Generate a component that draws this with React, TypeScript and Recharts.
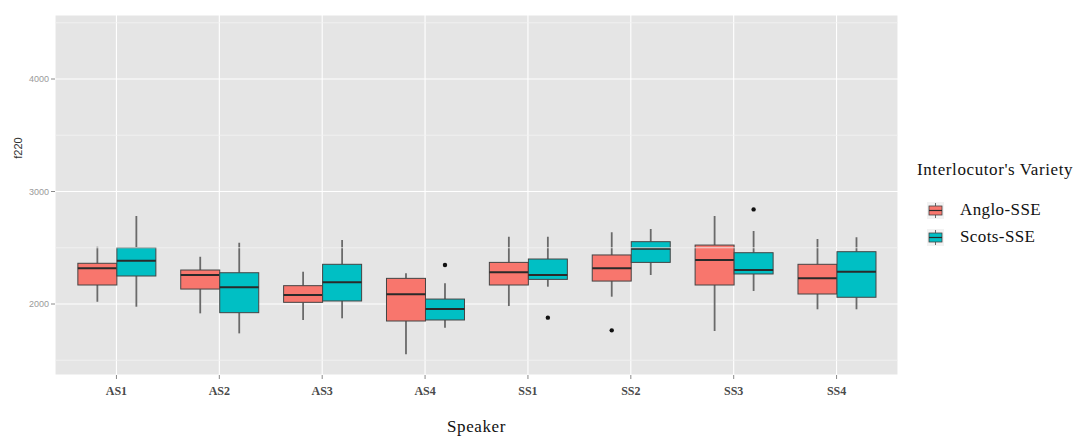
import { ComposedChart, Bar, XAxis, YAxis, CartesianGrid, ReferenceLine } from 'recharts';

const speakers = ['AS1', 'AS2', 'AS3', 'AS4', 'SS1', 'SS2', 'SS3', 'SS4'];

// Anglo-SSE interlocutor
const angloMin = [2020, 1917, 1858, 1553, 1982, 2065, 1760, 1953];
const angloQ1 = [2169, 2133, 2015, 1849, 2169, 2204, 2169, 2089];
const angloMed = [2317, 2258, 2080, 2086, 2282, 2317, 2391, 2228];
const angloQ3 = [2362, 2302, 2163, 2228, 2370, 2436, 2524, 2353];
const angloMax = [2509, 2420, 2287, 2273, 2599, 2637, 2782, 2578];
const angloOut = [[], [], [], [], [], [1766], [], []];

// Scots-SSE interlocutor
const scotsMin = [1976, 1739, 1873, 1790, 2154, 2258, 2116, 1953];
const scotsQ1 = [2249, 1923, 2027, 1858, 2219, 2370, 2267, 2060];
const scotsMed = [2385, 2148, 2193, 1956, 2258, 2492, 2302, 2287];
const scotsQ3 = [2500, 2278, 2353, 2044, 2400, 2554, 2456, 2465];
const scotsMax = [2782, 2545, 2569, 2184, 2599, 2667, 2649, 2593];
const scotsOut = [[], [], [], [2347], [1879], [], [2841], []];

const yMajor = [2000, 3000, 4000];
const yMinor = [1500, 2500, 3500, 4500];
const yDomain = [1369, 4569];

const RED = '#F8766D';
const TEAL = '#00BFC4';

const data = speakers.map((s, i) => ({
  speaker: s,
  a: { min: angloMin[i], q1: angloQ1[i], med: angloMed[i], q3: angloQ3[i], max: angloMax[i], out: angloOut[i] },
  s: { min: scotsMin[i], q1: scotsQ1[i], med: scotsMed[i], q3: scotsQ3[i], max: scotsMax[i], out: scotsOut[i] },
}));

const makeBox = (key: 'a' | 's', fill: string) => (props: any) => {
  const { x, y, width, height, payload } = props;
  const st = payload[key];
  const top = Math.min(y, y + height);
  const h = Math.abs(height);
  const k = h / (st.q3 - st.q1);
  const py = (v: number) => top + (st.q3 - v) * k;
  const cx = x + width / 2;
  return (
    <g>
      <line x1={cx} x2={cx} y1={py(st.max)} y2={py(st.q3)} stroke="#6a6a6a" strokeWidth={1.8} />
      <line x1={cx} x2={cx} y1={py(st.q1)} y2={py(st.min)} stroke="#6a6a6a" strokeWidth={1.8} />
      <rect x={x} y={top} width={width} height={h} fill={fill} stroke="#444" strokeWidth={1} />
      <line x1={x} x2={x + width} y1={py(st.med)} y2={py(st.med)} stroke="#2a2a2a" strokeWidth={2} />
      {st.out.map((v: number, j: number) => (
        <circle key={j} cx={cx} cy={py(v)} r={2.2} fill="#111" />
      ))}
    </g>
  );
};

const LegendKey = ({ color }: { color: string }) => (
  <svg width={17} height={17} style={{ display: 'block' }}>
    <rect x={0} y={0} width={17} height={17} fill="#F2F2F2" />
    <line x1={8.5} x2={8.5} y1={1} y2={16} stroke="#6a6a6a" strokeWidth={1} />
    <rect x={2} y={4} width={13} height={9} fill={color} stroke="#444" strokeWidth={0.8} />
    <line x1={2} x2={15} y1={8.5} y2={8.5} stroke="#2a2a2a" strokeWidth={1.2} />
  </svg>
);

const serif = "'Liberation Serif', 'DejaVu Serif', serif";
const sans = "'Liberation Sans', Arial, sans-serif";

export default function App() {
  return (
    <div style={{ position: 'absolute', left: 0, top: 0, width: 1084, height: 437, background: '#fff' }}>
      <ComposedChart
        width={1084}
        height={437}
        data={data}
        margin={{ top: 15, right: 186, bottom: 2, left: 20 }}
        barCategoryGap="12.5%"
        barGap={0}
      >
        <CartesianGrid fill="#E5E5E5" stroke="#FFFFFF" strokeWidth={1.1} />
        {yMinor.map((v) => (
          <ReferenceLine key={v} y={v} stroke="#F2F2F2" strokeWidth={0.8} />
        ))}
        <XAxis
          dataKey="speaker"
          padding={{ left: 10, right: 10 }}
          height={60}
          axisLine={false}
          tickSize={4}
          tickLine={{ stroke: '#8a8a8a' }}
          tick={{ fontSize: 12, fill: '#4a4a4a', fontFamily: serif, fontWeight: 'bold', dy: 5 }}
        />
        <YAxis
          type="number"
          domain={yDomain}
          allowDataOverflow
          ticks={yMajor}
          width={35}
          axisLine={false}
          tickSize={4}
          tickLine={{ stroke: '#8a8a8a' }}
          tick={{ fontSize: 9, fill: '#9a9a9a', fontFamily: sans }}
        />
        <Bar dataKey={(d: any) => [d.a.q1, d.a.q3]} shape={makeBox('a', RED)} isAnimationActive={false} />
        <Bar dataKey={(d: any) => [d.s.q1, d.s.q3]} shape={makeBox('s', TEAL)} isAnimationActive={false} />
      </ComposedChart>

      <div
        style={{
          position: 'absolute', left: 0, top: 417, width: 953, textAlign: 'center',
          fontFamily: serif, fontSize: 17, lineHeight: '20px', letterSpacing: 0.6, color: '#111',
        }}
      >
        Speaker
      </div>
      <div
        style={{
          position: 'absolute', left: -12, top: 141, width: 60, height: 14, textAlign: 'center',
          fontFamily: sans, fontSize: 11, lineHeight: '14px', color: '#333', transform: 'rotate(-90deg)',
        }}
      >
        f220
      </div>

      <div style={{ position: 'absolute', left: 917, top: 160, fontFamily: serif, color: '#111' }}>
        <div style={{ fontSize: 17, letterSpacing: 0.6, marginBottom: 20 }}>Interlocutor's Variety</div>
        <div style={{ display: 'flex', alignItems: 'center', marginLeft: 10, marginBottom: 7 }}>
          <LegendKey color={RED} />
          <span style={{ fontSize: 17, letterSpacing: 0.4, marginLeft: 16 }}>Anglo-SSE</span>
        </div>
        <div style={{ display: 'flex', alignItems: 'center', marginLeft: 10 }}>
          <LegendKey color={TEAL} />
          <span style={{ fontSize: 17, letterSpacing: 0.4, marginLeft: 16 }}>Scots-SSE</span>
        </div>
      </div>
    </div>
  );
}
